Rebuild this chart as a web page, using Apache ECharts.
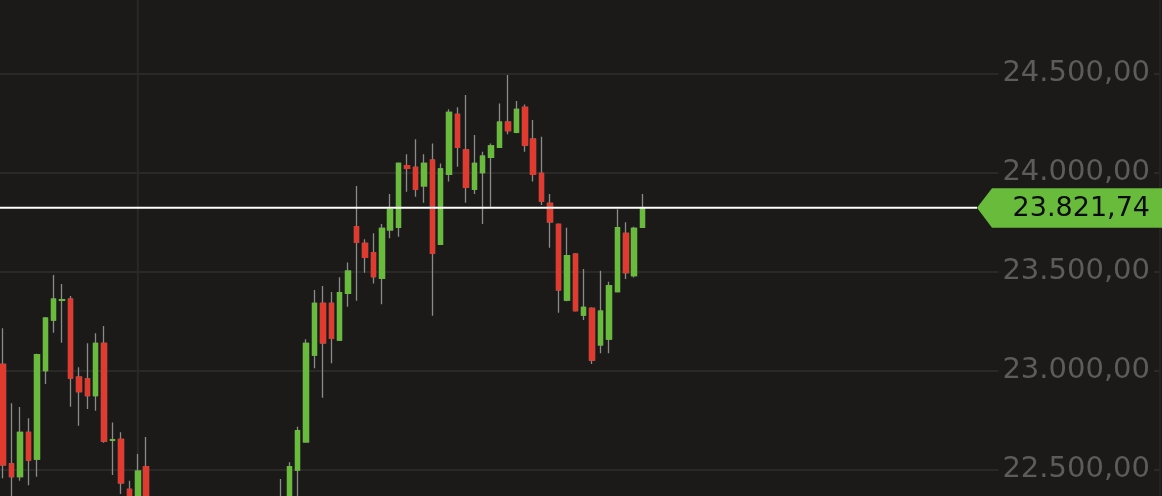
<!DOCTYPE html>
<html><head><meta charset="utf-8">
<script src="https://cdn.jsdelivr.net/npm/echarts@6/dist/echarts.min.js"></script>
<style>html,body{margin:0;padding:0;background:#1b1a19;overflow:hidden}#c{width:1162px;height:496px}</style>
</head><body><div id="c"></div>
<script>
// OHLC values (one entry per candle, oldest first)
const opens = [23031,22528,22464,22688,22552,22999,23255,23354,23360,22966,
  22957,22873,23137,22647,22652,22400,22290,22514,22300,22180,
  22230,22120,22050,22150,22080,22000,22090,22180,22120,22220,
  22160,22250,22200,22280,22330,22497,22640,23078,23339,23339,
  23154,23390,23726,23642,23595,23466,23710,23723,24034,24026,
  23933,24063,23637,23991,24294,24114,23915,23999,24077,24127,
  24254,24203,24329,24168,23996,23844,23738,23356,23587,23280,
  23314,23129,23159,23398,23693,23479,23723];
const closes = [22523,22464,22688,22548,23080,23264,23360,23358,22961,22893,
  22873,23137,22644,22651,22433,22290,22492,22300,22180,22230,
  22120,22050,22150,22080,22000,22090,22180,22120,22220,22160,
  22250,22200,22280,22330,22514,22696,23137,23339,23140,23163,
  23393,23502,23647,23572,23474,23718,23814,24046,24021,23915,
  24046,23592,24018,24304,24127,23925,24046,24083,24134,24254,
  24211,24319,24139,23991,23856,23751,23407,23580,23302,23319,
  23053,23300,23428,23721,23494,23718,23821.74];
const lows = [22456,22300,22443,22420,22464,22932,23191,23140,22817,22721,
  22806,22797,22635,22472,22376,22230,22250,22260,22120,22100,
  22060,21980,22000,22020,21950,21960,22040,22070,22090,22110,
  22130,22150,22170,22230,22300,22340,22635,23011,22863,23036,
  23150,23322,23352,23494,23440,23334,23668,23676,23903,23878,
  23847,23277,23634,23954,24029,23847,23891,23740,23827,24124,
  24193,24198,24105,23954,23836,23620,23292,23350,23298,23255,
  23033,23087,23087,23395,23462,23470,23720];
const highs = [23213,22834,22816,22759,23085,23270,23482,23437,23376,23016,
  23137,23188,23225,22738,22688,22443,22578,22664,22340,22300,
  22280,22200,22220,22210,22130,22150,22250,22260,22290,22300,
  22320,22330,22340,22452,22536,22716,23158,23407,23427,23396,
  23471,23546,23932,23663,23693,23740,23891,24050,24092,24168,
  24092,24147,24046,24319,24329,24391,24189,24105,24147,24349,
  24492,24361,24344,24265,24181,23891,23742,23721,23592,23513,
  23320,23504,23448,23814,23749,23726,23891];
const slotCount = 138;           // candles + empty future slots
const categories = Array.from({length: slotCount}, (_, i) => 'P' + (i + 1));
const sessionBreak = 'P17';
const lastPrice = 23821.74;
const yMin = 22000, yMax = 25000, yStep = 500;

const BG = '#1b1a19', GRID = '#2a2928', GREEN = '#69bb3b', RED = '#e23a2e', WICK = '#8a8a8a';

function fmt(v) {
  const parts = Math.abs(v).toFixed(2).split('.');
  return parts[0].replace(/\B(?=(\d{3})+(?!\d))/g, '.') + ',' + parts[1];
}

const ohlc = opens.map((o, i) => [o, closes[i], lows[i], highs[i]]);
const bodies = opens.map((o, i) => [o, closes[i], Math.min(o, closes[i]), Math.max(o, closes[i])]);

const chart = echarts.init(document.getElementById('c'), null, {renderer: 'canvas'});
chart.setOption({
  backgroundColor: BG,
  animation: false,
  grid: {left: -1, right: 2, top: -25.5, bottom: -72.5, containLabel: false, outerBoundsMode: 'none'},
  xAxis: {
    type: 'category', data: categories, boundaryGap: true,
    axisLine: {show: false}, axisTick: {show: false}, axisLabel: {show: false}, splitLine: {show: false}
  },
  yAxis: {
    type: 'value', position: 'right', min: yMin, max: yMax, interval: yStep,
    axisLine: {show: true, lineStyle: {color: '#252423', width: 2}},
    axisTick: {show: false},
    splitLine: {show: true, lineStyle: {color: GRID, width: 2}},
    axisLabel: {
      inside: true, margin: 6, color: '#5c5c5c', fontFamily: 'DejaVu Sans', fontSize: 29,
      formatter: fmt, backgroundColor: BG, padding: [0, 4, 0, 4]
    }
  },
  series: [
    {
      type: 'candlestick', data: ohlc, barWidth: 5, silent: true,
      itemStyle: {color: WICK, color0: WICK, borderColor: WICK, borderColor0: WICK, borderWidth: 1.3}
    },
    {
      type: 'candlestick', data: bodies, barWidth: 5, silent: true,
      itemStyle: {color: GREEN, color0: RED, borderColor: GREEN, borderColor0: RED, borderWidth: 1.3}
    }
  ]
});

const yP = chart.convertToPixel({yAxisIndex: 0}, lastPrice);
const xV = chart.convertToPixel({xAxisIndex: 0}, sessionBreak);
const W = chart.getWidth(), H = chart.getHeight();
const tagTip = 977, tagShoulder = 992;
chart.setOption({
  graphic: [
    {type: 'line', z: 0, silent: true, shape: {x1: xV, y1: 0, x2: xV, y2: H}, style: {stroke: GRID, lineWidth: 2}},
    {type: 'line', z: 100, silent: true, shape: {x1: 0, y1: yP, x2: tagTip, y2: yP}, style: {stroke: '#ffffff', lineWidth: 2}},
    {type: 'polygon', z: 101, silent: true,
      shape: {points: [[tagTip, yP], [tagShoulder, yP - 19.5], [W, yP - 19.5], [W, yP + 20], [tagShoulder, yP + 20]]},
      style: {fill: GREEN}},
    {type: 'text', z: 102, silent: true, x: 1150, y: yP + 1,
      style: {text: fmt(lastPrice), fill: '#0c0c0c', font: '27px "DejaVu Sans"',
        align: 'right', textAlign: 'right', verticalAlign: 'middle', textVerticalAlign: 'middle'}}
  ]
});
</script>
</body></html>
